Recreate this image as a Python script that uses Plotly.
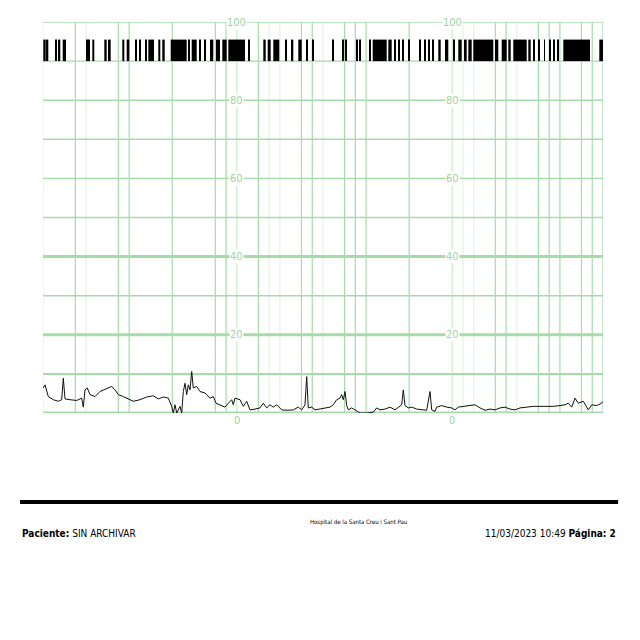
import plotly.graph_objects as go

# ---- data (time in chart samples, uterine activity 0-100) ----
ua_t = [0.3, 2, 5.3, 10.3, 15.3, 18.7, 20.3, 22, 27, 33.7, 38.7, 40.3, 42, 44.3, 47, 52, 57, 60.3,
        63.7, 68.7, 72, 75.3, 80.3, 85.3, 90.3, 97, 103.7, 110.3, 115.3, 120.3, 125.3, 128.7, 130.3,
        132, 133.7, 137, 138.7, 140.3, 142, 143.7, 145.3, 147, 148.7, 150.3, 153.7, 157, 162, 167,
        170.3, 173, 177, 182, 185.3, 188.7, 190.3, 192, 197, 200.3, 203.7, 207, 212, 217, 220.3,
        223.7, 227, 230.3, 233.7, 238.7, 243.7, 250.3, 255.3, 258.7, 262, 263.7, 265.3, 268.7, 272,
        277, 282, 287, 290.3, 293.7, 297, 298.7, 300.3, 302, 303.7, 305.3, 308.7, 312, 317, 323.7,
        330.3, 333.7, 337, 342, 347, 352, 355.3, 358.7, 360.3, 362, 365.3, 368.7, 373.7, 378.7,
        383.7, 387, 388.7, 392, 393.7, 398.7, 403.7, 408.7, 412, 415.3, 420.3, 427, 432, 437, 442,
        447, 452, 457, 462, 467, 472, 477, 483.7, 490.3, 497, 503.7, 510.3, 517, 522, 525.3, 528.7,
        532, 535.3, 540.3, 543.7, 545.3, 548.7, 553.7, 558.7, 560]
ua_val = [6.4, 7.2, 4.2, 3.4, 3.0, 3.4, 8.9, 3.6, 3.4, 3.2, 3.8, 1.5, 5.9, 6.4, 4.7, 4.2, 5.5, 5.9,
          6.4, 6.8, 5.9, 4.7, 4.2, 3.6, 3.0, 3.4, 4.1, 4.4, 3.6, 4.1, 3.8, 1.7, 0.0,
          2.1, 0.0, 1.7, 0.0, 5.5, 7.6, 4.7, 7.2, 5.9, 10.6, 6.4, 6.8, 5.5, 5.1, 3.8,
          4.2, 2.5, 2.1, 1.5, 2.5, 3.4, 2.1, 3.8, 3.4, 1.7, 3.0, 0.8, 1.0, 1.3, 2.5,
          1.3, 2.1, 1.5, 2.1, 0.8, 0.7, 0.8, 1.5, 0.8, 2.1, 9.3, 1.3, 1.5, 0.8,
          1.0, 1.3, 1.5, 2.1, 3.4, 3.8, 4.7, 3.4, 5.5, 1.9, 0.8, 1.3, 0.7, 0.0, 0.0,
          0.2, 1.3, 0.8, 1.0, 1.5, 0.8, 1.5, 2.1, 5.9, 1.9, 1.3, 1.5, 1.0, 0.8,
          0.7, 5.5, 0.8, 0.4, 1.5, 1.9, 1.5, 1.3, 0.8, 1.5, 1.7, 1.9, 2.1, 1.3, 0.7,
          1.0, 0.8, 1.3, 1.5, 1.0, 0.8, 1.3, 1.5, 1.7, 1.7, 1.7, 1.7, 1.9, 2.1, 2.5, 1.5,
          3.8, 2.5, 3.0, 1.5, 0.8, 2.1, 1.9, 2.5, 3.0]

# event marks (start, end) in the same time units
mark_start = [0.3, 3.7, 12, 15.7, 19.7, 43, 45.7, 49.3, 61.3, 65, 79.3, 83.7, 92, 96.3, 102.3, 105.3,
              115.3, 119.3, 127.7, 145.3, 148.7, 156, 161, 167, 173, 179.3, 185.3, 205.3, 220.3,
              224.7, 230.3, 242, 248.7, 255.3, 263, 269.3, 289.3, 299.7, 302, 313.7, 316.3, 326.3,
              329.7, 345.3, 351, 355.3, 359.7, 365.3, 376.3, 381, 385.3, 389.7, 395.3, 402, 410.3,
              415.3, 421, 425.3, 430.3, 452, 458.7, 465.3, 470.3, 485.3, 490.3, 495.3, 501, 506.3,
              510.3, 514.7, 520.3, 556.3]
mark_end = [2.7, 5.3, 13.7, 17.3, 23, 44.3, 47, 51.3, 63.7, 67.7, 81.3, 86.3, 93.3, 97.3, 104, 111,
            117.3, 121.7, 143.7, 147, 153.7, 157.7, 162.7, 170.3, 177, 183.7, 202, 207, 222.7,
            227.7, 236.3, 243.7, 250.3, 258.7, 264.3, 271, 290.3, 301, 303.7, 314.7, 317.3, 327.7,
            343.7, 348.7, 353, 357, 361, 366.3, 377.3, 382.3, 387, 391, 397.7, 405.3, 411.3,
            418.7, 423.7, 428.7, 450.3, 455.3, 463.7, 467.7, 483.7, 487.7, 492, 496.3, 502, 507.7,
            511.3, 516, 547, 560]

y_tick_vals = [100, 80, 60, 40, 20, 0]
y_tick_text = ["100", "80", "60", "40", "20", "0"]
label_columns = [18, 38]          # grid-division index where scale labels sit

patient_label = "Paciente:"
patient_name = "SIN ARCHIVAR"
hospital = "Hospital de la Santa Creu i Sant Pau"
print_date = "11/03/2023 10:49"
page_label = "Página: 2"

# ---- layout constants ----
T_MAX = 560
N_DIV = 52
DIV = T_MAX / N_DIV
strong_v = [3, 7, 8, 12, 16, 17, 20, 24, 25, 28, 29, 30, 34, 42, 43, 46, 47, 48, 50, 51, 52]
medium_v = [18, 38]
faint_v = [0, 4, 21, 22, 26, 39, 40, 44]
G_STRONG = "#a6dcaa"
G_MED = "#c9eac9"
G_FAINT = "#e2f3e2"
NARROW = "Liberation Sans Narrow, DejaVu Sans Condensed, Roboto, sans-serif"

fig = go.Figure()

shapes = []
for i in range(N_DIV + 1):
    if i in strong_v:
        col, w = G_STRONG, 1.2
    elif i in medium_v:
        col, w = G_MED, 1.2
    elif i in faint_v:
        col, w = G_FAINT, 1.2
    else:
        continue
    shapes.append(dict(type="line", xref="x", yref="y", x0=i * DIV, x1=i * DIV, y0=0, y1=100,
                       line=dict(color=col, width=w), layer="below"))
for v in range(0, 101, 10):
    if v in (0, 20, 40):
        w = 3
    elif v == 10:
        w = 2
    else:
        w = 1.4
    shapes.append(dict(type="line", xref="x", yref="y", x0=0, x1=T_MAX, y0=v, y1=v,
                       line=dict(color=G_STRONG, width=w), layer="below"))

# footer rule
shapes.append(dict(type="line", xref="paper", yref="paper", x0=-0.041, x1=1.027,
                   y0=-0.2276, y1=-0.2276, line=dict(color="black", width=4)))

# event marks as bars
centers = [(s + e) / 2 for s, e in zip(mark_start, mark_end)]
widths = [e - s for s, e in zip(mark_start, mark_end)]
fig.add_trace(go.Bar(x=centers, y=[5.5] * len(centers), base=90, width=widths,
                     marker=dict(color="black", line=dict(width=0)), hoverinfo="skip"))

fig.add_trace(go.Scatter(x=ua_t, y=ua_val, mode="lines",
                         line=dict(color="#111111", width=1), hoverinfo="skip"))

annotations = []
for col in label_columns:
    for v, txt in zip(y_tick_vals, y_tick_text):
        annotations.append(dict(x=col * DIV, y=v, xref="x", yref="y", text=txt, showarrow=False,
                                font=dict(family=NARROW, size=11, color="#9fd3a3"),
                                bgcolor="white", borderpad=0, xanchor="center",
                                yanchor="top" if v == 0 else "middle"))

annotations.append(dict(x=-0.041, y=-0.307, xref="paper", yref="paper",
                        text=f"<b>{patient_label}</b> {patient_name}", showarrow=False,
                        xanchor="left", yanchor="middle",
                        font=dict(family=NARROW, size=10, color="black")))
annotations.append(dict(x=0.5625, y=-0.279, xref="paper", yref="paper",
                        text=hospital, showarrow=False, xanchor="center", yanchor="middle",
                        font=dict(family=NARROW, size=6, color="black")))
annotations.append(dict(x=1.027, y=-0.307, xref="paper", yref="paper",
                        text=f"{print_date} <b>{page_label}</b>", showarrow=False,
                        xanchor="right", yanchor="middle",
                        font=dict(family=NARROW, size=10, color="black")))

fig.update_layout(
    width=640, height=640,
    margin=dict(l=43, r=37, t=22, b=227),
    paper_bgcolor="white", plot_bgcolor="white",
    showlegend=False, barmode="overlay",
    shapes=shapes, annotations=annotations,
    xaxis=dict(range=[0, T_MAX], showgrid=False, zeroline=False, showticklabels=False,
               showline=False, ticks=""),
    yaxis=dict(range=[0, 100], showgrid=False, zeroline=False, showticklabels=False,
               showline=False, ticks=""),
)

fig.write_html("out.html")
